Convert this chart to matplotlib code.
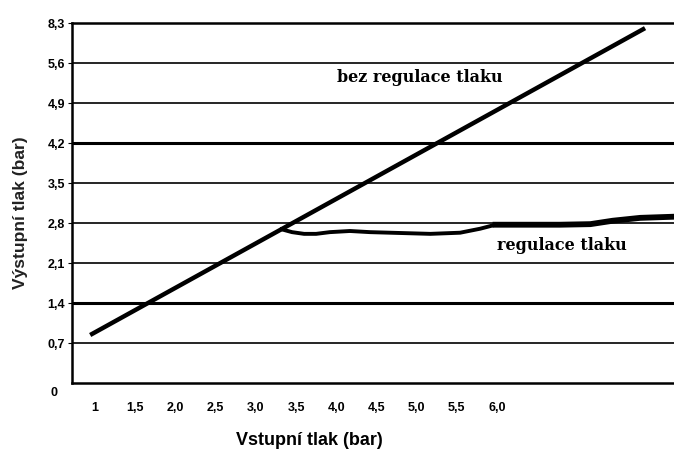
import matplotlib
matplotlib.use("Agg")
import matplotlib.pyplot as plt

# ── data ─────────────────────────────────────────────────────────
x_ticks = [1.0, 1.5, 2.0, 2.5, 3.0, 3.5, 4.0, 4.5, 5.0, 5.5, 6.0]
x_labels = ["1", "1,5", "2,0", "2,5", "3,0", "3,5", "4,0", "4,5", "5,0", "5,5", "6,0"]
y_ticks = [0.7, 1.4, 2.1, 2.8, 3.5, 4.2, 4.9, 5.6, 6.3]
y_labels = ["0,7", "1,4", "2,1", "2,8", "3,5", "4,2", "4,9", "5,6", "8,3"]

# without pressure regulation (straight line)
bez_x = [0.94, 7.84]
bez_y = [0.84, 6.21]

# with pressure regulation
reg_x = [3.32, 3.45, 3.60, 3.75, 3.92, 4.17, 4.42, 4.67, 5.17, 5.54, 5.79, 5.98]
reg_y = [2.69, 2.64, 2.61, 2.61, 2.64, 2.66, 2.64, 2.63, 2.61, 2.63, 2.70, 2.77]
reg2_x = [5.98, 6.41, 6.78, 7.16, 7.44, 7.78, 8.20]
reg2_y = [2.77, 2.77, 2.77, 2.78, 2.84, 2.89, 2.91]

thick_rows = [1.4, 4.2]

# ── figure ───────────────────────────────────────────────────────
plt.rcParams["font.family"] = ["Liberation Sans", "DejaVu Sans"]
fig = plt.figure(figsize=(6.74, 4.54), dpi=100)
ax = fig.add_axes([72 / 674, 71 / 454, 1 - 72 / 674, 360 / 454])
ax.set_xlim(0.714, 8.20)
ax.set_ylim(0, 6.3)

for v in y_ticks[:-1]:
    ax.axhline(v, color="black", lw=2.2 if v in thick_rows else 1.2, zorder=1)

ax.plot(bez_x, bez_y, color="black", lw=3.2, solid_capstyle="butt", zorder=3)
ax.plot(reg_x, reg_y, color="black", lw=2.8, zorder=3)
ax.plot(reg2_x, reg2_y, color="black", lw=4.2, zorder=3)

ax.text(5.04, 5.34, "bez regulace tlaku", family="DejaVu Serif", fontweight="bold",
        fontsize=11.5, ha="center", va="center")
ax.text(6.80, 2.40, "regulace tlaku", family="DejaVu Serif", fontweight="bold",
        fontsize=11.5, ha="center", va="center")

for side in ["top", "left", "bottom"]:
    ax.spines[side].set_linewidth(1.8)
ax.spines["right"].set_visible(False)

ax.set_xticks(x_ticks)
ax.set_xticklabels(x_labels, fontsize=9, fontweight="bold")
ax.tick_params(axis="x", length=0, pad=14)
ax.set_yticks(y_ticks)
ax.set_yticklabels(y_labels, fontsize=9, fontweight="bold")
ax.tick_params(axis="y", length=3, pad=2)
ax.text(-0.024, -0.028, "0", transform=ax.transAxes, ha="right", va="center",
        fontsize=9, fontweight="bold")

ax.set_xlabel("Vstupní tlak (bar)", fontsize=13, fontweight="bold")
ax.xaxis.set_label_coords(0.395, -0.161)
ax.xaxis.label.set_verticalalignment("center")
fig.text(21 / 674, 1 - 213 / 454, "Výstupní tlak (bar)", rotation=90, fontsize=12.5,
         fontweight="bold", ha="center", va="center", color="#222222")

fig.savefig("out.png", dpi=100)
